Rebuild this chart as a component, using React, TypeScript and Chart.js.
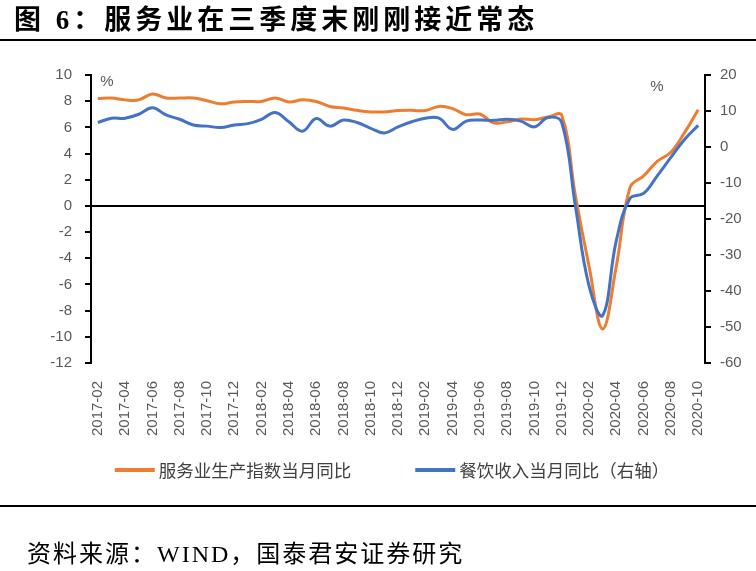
import React, { useEffect, useRef } from 'react';
import { Chart, registerables } from 'chart.js';

Chart.register(...registerables);

const months = [
  '2017-02', '2017-03', '2017-04', '2017-05', '2017-06', '2017-07', '2017-08', '2017-09', '2017-10', '2017-11', '2017-12',
  '2018-01', '2018-02', '2018-03', '2018-04', '2018-05', '2018-06', '2018-07', '2018-08', '2018-09', '2018-10', '2018-11', '2018-12',
  '2019-01', '2019-02', '2019-03', '2019-04', '2019-05', '2019-06', '2019-07', '2019-08', '2019-09', '2019-10', '2019-11', '2019-12',
  '2020-01', '2020-02', '2020-03', '2020-04', '2020-05', '2020-06', '2020-07', '2020-08', '2020-09', '2020-10',
];

// 服务业生产指数当月同比 (left axis, %)
const serviceProduction = [
  8.2, 8.24, 8.1, 8.1, 8.55, 8.24, 8.24, 8.24, 8.04, 7.8, 7.94,
  7.98, 7.98, 8.24, 7.94, 8.1, 7.98, 7.6, 7.48, 7.3, 7.18, 7.18, 7.28,
  7.3, 7.28, 7.6, 7.43, 6.97, 7.02, 6.34, 6.42, 6.64, 6.59, 6.8, 6.92,
  0.8, -4.6, -9.4, -4.6, 1.4, 2.3, 3.4, 4.1, 5.6, 7.35,
];

// 餐饮收入当月同比 (right axis, %)
const cateringRevenue = [
  6.8, 8.0, 8.0, 9.1, 10.9, 8.9, 7.7, 6.1, 5.8, 5.4, 6.1,
  6.5, 7.7, 9.6, 7.0, 4.4, 7.9, 5.8, 7.5, 6.8, 5.2, 3.9, 5.6,
  7.0, 8.0, 8.0, 4.9, 7.2, 7.5, 7.4, 7.7, 7.2, 5.6, 8.2, 6.8,
  -16.4, -38.6, -46.8, -26.0, -14.3, -12.9, -8.0, -2.9, 2.1, 6.0,
];

const leftMin = -12;
const leftMax = 10;
const leftStep = 2;
const rightMin = -60;
const rightMax = 20;
const rightStep = 10;

const seriesNames = ['服务业生产指数当月同比', '餐饮收入当月同比（右轴）'];
const seriesColors = ['#ED7D31', '#4472C4'];
const titleText = '图 6：服务业在三季度末刚刚接近常态';
const sourceText = '资料来源：WIND，国泰君安证券研究';

const tickFont = { family: '"Liberation Sans", Arial, sans-serif', size: 15 };
const tickColor = '#595959';

const percentPlugin = {
  id: 'percentLabels',
  afterDraw(chart: any) {
    const { ctx, chartArea } = chart;
    ctx.save();
    ctx.font = '15px "Liberation Sans", Arial, sans-serif';
    ctx.fillStyle = tickColor;
    ctx.textAlign = 'center';
    ctx.textBaseline = 'middle';
    ctx.fillText('%', chartArea.left + 16, chartArea.top + 7);
    ctx.fillText('%', chartArea.right - 48, chartArea.top + 12);
    ctx.restore();
  },
};

const legendPlugin = {
  id: 'bottomLegend',
  afterDraw(chart: any) {
    const { ctx } = chart;
    ctx.save();
    ctx.font = '17.5px "Noto Sans CJK SC", sans-serif';
    const sample = 40;
    const textGap = 4;
    const itemGap = 64;
    const items = chart.data.datasets.map((ds: any) => ({
      text: ds.label as string,
      color: ds.borderColor as string,
      w: ctx.measureText(ds.label).width as number,
    }));
    const total = items.reduce((s: number, it: any) => s + sample + textGap + it.w, 0) + itemGap * (items.length - 1);
    let x = 392 - total / 2;
    const y = 470;
    items.forEach((it: any) => {
      ctx.strokeStyle = it.color;
      ctx.lineWidth = 4;
      ctx.lineCap = 'butt';
      ctx.beginPath();
      ctx.moveTo(x, y);
      ctx.lineTo(x + sample, y);
      ctx.stroke();
      ctx.fillStyle = '#404040';
      ctx.textAlign = 'left';
      ctx.textBaseline = 'middle';
      ctx.fillText(it.text, x + sample + textGap, y);
      x += sample + textGap + it.w + itemGap;
    });
    ctx.restore();
  },
};

export default function App() {
  const canvasRef = useRef<HTMLCanvasElement | null>(null);

  useEffect(() => {
    if (!canvasRef.current) return;
    const chart = new Chart(canvasRef.current, {
      type: 'line',
      data: {
        labels: months,
        datasets: [
          {
            label: seriesNames[0],
            data: serviceProduction,
            yAxisID: 'y',
            borderColor: seriesColors[0],
            backgroundColor: seriesColors[0],
            borderWidth: 3,
            pointRadius: 0,
            tension: 0.4,
            order: 1,
          },
          {
            label: seriesNames[1],
            data: cateringRevenue,
            yAxisID: 'y1',
            borderColor: seriesColors[1],
            backgroundColor: seriesColors[1],
            borderWidth: 3,
            pointRadius: 0,
            tension: 0.4,
            order: 0,
          },
        ],
      },
      options: {
        animation: false,
        responsive: false,
        devicePixelRatio: 1,
        layout: { padding: { top: 75, left: 24, right: 0, bottom: 128 } },
        plugins: {
          legend: { display: false },
          tooltip: { enabled: false },
        },
        scales: {
          x: {
            offset: true,
            grid: { display: false },
            border: { display: false },
            ticks: {
              autoSkip: false,
              maxRotation: 90,
              minRotation: 90,
              padding: 10,
              color: tickColor,
              font: tickFont,
              callback: (_v: any, i: number) => (i % 2 === 0 ? months[i] : ''),
            },
            afterFit: (s: any) => { s.height = 80; },
          },
          y: {
            position: 'left',
            min: leftMin,
            max: leftMax,
            ticks: { stepSize: leftStep, padding: 13, color: tickColor, font: tickFont },
            grid: {
              color: (c: any) => (c.tick && c.tick.value === 0 ? '#000000' : 'rgba(0,0,0,0)'),
              tickColor: '#000000',
              lineWidth: 2,
              tickLength: 6,
            },
            border: { color: '#000000', width: 2 },
            afterFit: (s: any) => { s.width = 67; },
          },
          y1: {
            position: 'right',
            min: rightMin,
            max: rightMax,
            ticks: { stepSize: rightStep, padding: 9, color: tickColor, font: tickFont },
            grid: { drawOnChartArea: false, tickColor: '#000000', lineWidth: 2, tickLength: 6 },
            border: { color: '#000000', width: 2 },
            afterFit: (s: any) => { s.width = 51; },
          },
        },
      },
      plugins: [percentPlugin, legendPlugin],
    } as any);
    return () => chart.destroy();
  }, []);

  return (
    <div style={{ position: 'absolute', left: 0, top: 0, width: 756, height: 571, background: '#fff', overflow: 'hidden' }}>
      <canvas ref={canvasRef} width={756} height={571} style={{ position: 'absolute', left: 0, top: 0, width: 756, height: 571 }} />
      <div
        style={{
          position: 'absolute', left: 14, top: 2, fontFamily: '"Liberation Serif", "Noto Sans CJK SC", serif',
          fontWeight: 700, fontSize: 27, letterSpacing: 4, color: '#000', whiteSpace: 'nowrap', lineHeight: '36px',
        }}
      >
        {titleText}
      </div>
      <div style={{ position: 'absolute', left: 0, top: 39, width: 756, height: 2, background: '#000' }} />
      <div style={{ position: 'absolute', left: 0, top: 505, width: 756, height: 2, background: '#000' }} />
      <div
        style={{
          position: 'absolute', left: 27, top: 538, fontFamily: '"Liberation Serif", "Noto Sans CJK SC", serif',
          fontSize: 24, letterSpacing: 2, color: '#000', whiteSpace: 'nowrap', lineHeight: '32px',
        }}
      >
        {sourceText}
      </div>
    </div>
  );
}
